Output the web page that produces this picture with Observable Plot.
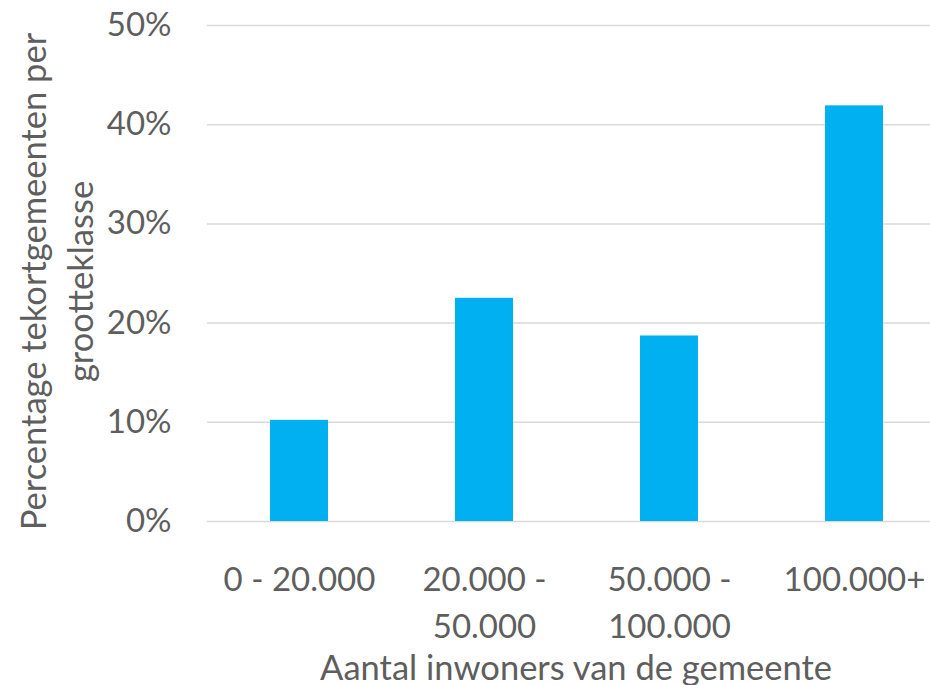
<!DOCTYPE html>
<html>
<head>
<meta charset="utf-8">
<script src="https://cdn.jsdelivr.net/npm/d3@7"></script>
<script src="https://cdn.jsdelivr.net/npm/@observablehq/plot@0.6"></script>
<style>
  html, body { margin: 0; padding: 0; background: #fff; }
  #chart svg { display: block; }
</style>
</head>
<body>
<div id="chart"></div>
<script>
const categories = ["0 - 20.000", "20.000 - 50.000", "50.000 - 100.000", "100.000+"];
const tickLabels = ["0 - 20.000", "20.000 -\n50.000", "50.000 -\n100.000", "100.000+"];
const values = [0.102, 0.225, 0.187, 0.419];
const yTicks = [0, 0.1, 0.2, 0.3, 0.4, 0.5];
const xTitle = "Aantal inwoners van de gemeente";
const yTitle = "Percentage tekortgemeenten per\ngrootteklasse";

const data = categories.map((c, i) => ({category: c, value: values[i]}));
const labelOf = new Map(categories.map((c, i) => [c, tickLabels[i]]));

const font = "Lato, 'Open Sans', sans-serif";
const textColor = "#5e5e5e";

const chart = Plot.plot({
  width: 930,
  height: 685,
  marginTop: 25,
  marginBottom: 164,
  marginLeft: 207,
  marginRight: 0,
  style: {fontFamily: font, fontSize: "33px", color: textColor, background: "#fff"},
  x: {domain: categories, range: [205, 947], paddingInner: 0.687, paddingOuter: 0.3435, align: 0.5},
  y: {domain: [0, 0.5]},
  marks: [
    Plot.ruleY(yTicks, {stroke: "#d9d9d9", strokeWidth: 1.5}),
    Plot.barY(data, {x: "category", y: "value", fill: "#00b0f0"}),
    Plot.axisY({ticks: yTicks, tickFormat: d => Math.round(d * 100) + "%", tickSize: 0, tickPadding: 36,
      label: null, fontSize: 33, fill: textColor}),
    Plot.axisX({tickFormat: d => labelOf.get(d), tickSize: 0, tickPadding: 36, label: null,
      fontSize: 33, fill: textColor, lineHeight: 1.42}),
    Plot.text([xTitle], {frameAnchor: "bottom", dx: 7, dy: 158, text: d => d, fontSize: 34.5, fill: textColor, lineAnchor: "bottom"}),
    Plot.text([yTitle], {frameAnchor: "left", dx: -153, dy: 8, text: d => d, rotate: -90, fontSize: 34.5, fill: textColor,
      textAnchor: "middle", lineAnchor: "middle", lineHeight: 1.36})
  ]
});
document.getElementById("chart").appendChild(chart);
</script>
</body>
</html>
